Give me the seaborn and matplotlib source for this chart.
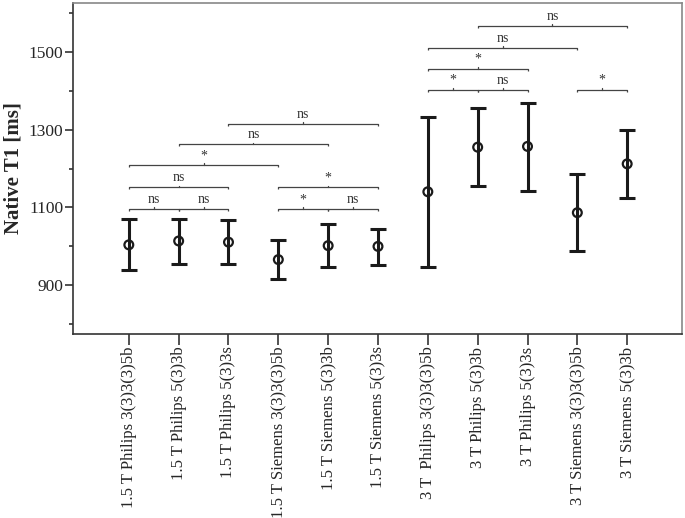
import matplotlib
matplotlib.use("Agg")
import matplotlib.pyplot as plt
from matplotlib.ticker import MultipleLocator
import seaborn as sns
import pandas as pd
import numpy as np

# protocol groups (x axis)
protocols = [
    "1.5 T Philips 3(3)3(3)5b",
    "1.5 T Philips 5(3)3b",
    "1.5 T Philips 5(3)3s",
    "1.5 T Siemens 3(3)3(3)5b",
    "1.5 T Siemens 5(3)3b",
    "1.5 T Siemens 5(3)3s",
    "3 T  Philips 3(3)3(3)5b",
    "3 T Philips 5(3)3b",
    "3 T Philips 5(3)3s",
    "3 T Siemens 3(3)3(3)5b",
    "3 T Siemens 5(3)3b",
]
# mean native T1 and interval bounds [ms]
t1_mean = [1003, 1013, 1010, 965, 1001, 999, 1140, 1255, 1257, 1086, 1212]
t1_low = [939, 954, 954, 915, 947, 950, 947, 1155, 1142, 986, 1125]
t1_high = [1069, 1069, 1068, 1015, 1056, 1045, 1334, 1355, 1370, 1186, 1300]

# pairwise comparisons
pair_a = [0, 1, 0, 0, 1, 2, 3, 4, 3, 6, 7, 6, 6, 7, 9]
pair_b = [1, 2, 2, 3, 4, 5, 4, 5, 5, 7, 8, 8, 9, 10, 10]
pair_sig = ["ns", "ns", "ns", "*", "ns", "ns", "*", "ns", "*", "*", "ns", "*", "ns", "ns", "*"]
pair_level = [1095, 1095, 1151, 1208, 1262, 1315, 1095, 1095, 1151,
              1403, 1403, 1457, 1511, 1568, 1403]

sns.set_theme(style="ticks")
plt.rcParams["font.family"] = ["Liberation Serif", "DejaVu Serif"]
plt.rcParams["mathtext.fontset"] = "custom"

df = pd.DataFrame({"protocol": protocols, "t1": t1_mean,
                   "lo": t1_low, "hi": t1_high})

fig = plt.figure(figsize=(6.85, 5.18), dpi=100)
ax = fig.add_axes([73 / 685, 1 - 334 / 518, 609 / 685, 331 / 518])

xpos = np.arange(len(df))
ax.errorbar(xpos, df["t1"], yerr=[df["t1"] - df["lo"], df["hi"] - df["t1"]],
            fmt="none", ecolor="#1a1a1a", elinewidth=2.2, capsize=5.5,
            capthick=2.2, zorder=2)
sns.scatterplot(data=df, x="protocol", y="t1", ax=ax, marker="o", s=40,
                facecolor="none", edgecolor="#1a1a1a", linewidth=1.6,
                zorder=3)

# significance brackets
for a, b, lab, lev in zip(pair_a, pair_b, pair_sig, pair_level):
    ax.plot([a, a, b, b], [lev - 5, lev, lev, lev - 5], color="#444444",
            lw=0.9, solid_capstyle="butt", zorder=1)
    mid = (a + b) / 2
    ax.plot([mid, mid], [lev, lev + 5], color="#444444", lw=0.9, zorder=1)
    ax.text(mid, lev + 8, lab, ha="center", va="bottom", fontsize=10,
            color="#333333")

ax.set_xlim(-1.12, 11.1)
ax.set_ylim(773, 1627)
ax.yaxis.set_major_locator(MultipleLocator(200))
ax.yaxis.set_minor_locator(MultipleLocator(100))
ax.set_yticks([900, 1100, 1300, 1500])
ax.set_xticks(xpos)
ax.set_xticklabels(protocols, rotation=90, fontsize=12)
ax.tick_params(axis="y", which="major", labelsize=12.5, length=6,
               width=1.2, color="#333333", pad=1)
ax.tick_params(axis="y", which="minor", length=3, width=1.2, color="#333333")
ax.tick_params(axis="x", length=8, width=1.2, color="#333333", pad=1)
ax.set_xlabel("")
ax.set_ylabel("Native T1 [ms]", fontsize=15, fontweight="bold", labelpad=4)

for side in ["left", "bottom"]:
    ax.spines[side].set_color("#333333")
    ax.spines[side].set_linewidth(1.2)
for side in ["top", "right"]:
    ax.spines[side].set_visible(True)
    ax.spines[side].set_color("#888888")
    ax.spines[side].set_linewidth(1.2)

fig.savefig("out.png", dpi=100)
